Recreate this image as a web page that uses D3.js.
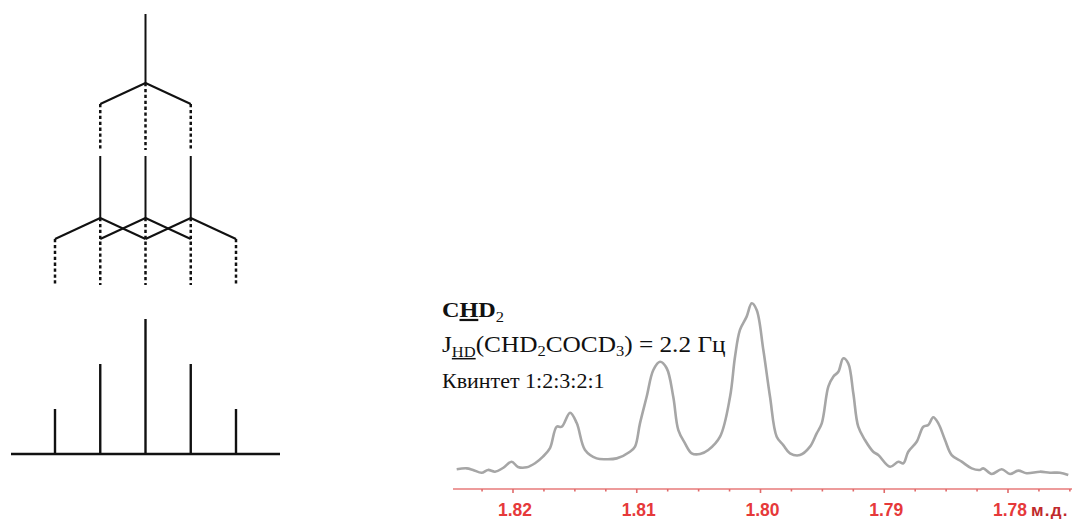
<!DOCTYPE html>
<html>
<head>
<meta charset="utf-8">
<script src="https://cdn.jsdelivr.net/npm/d3@7"></script>
<style>
  html, body { margin: 0; padding: 0; background: #fff; }
  svg { display: block; }
</style>
</head>
<body>
<svg id="chart" width="1082" height="519"></svg>
<script>
// Stick spectrum: relative intensities of the 1:2:3:2:1 quintet
const stickOffsets = [-2, -1, 0, 1, 2];       // line positions, in units of J
const stickIntensities = [1, 2, 3, 2, 1];

// Splitting tree: each D (spin 1) splits a line into three
const tripletOffsets = [-1, 0, 1];

// Measured CHD2 signal: chemical shift (ppm) and intensity (arb. units)
const shiftPpm = [
  1.82455, 1.82374, 1.82323, 1.82253, 1.82202, 1.82145, 1.82081, 1.82011, 1.81960, 1.81889,
  1.81822, 1.81758, 1.81701, 1.81647, 1.81606, 1.81539, 1.81485, 1.81418, 1.81324, 1.81243,
  1.81162, 1.81055, 1.81014, 1.80974, 1.80920, 1.80866, 1.80812, 1.80758, 1.80705, 1.80664,
  1.80610, 1.80556, 1.80489, 1.80422, 1.80327, 1.80246, 1.80206, 1.80166, 1.80112, 1.80071,
  1.80031, 1.79977, 1.79923, 1.79869, 1.79816, 1.79762, 1.79681, 1.79600, 1.79546, 1.79505,
  1.79452, 1.79412, 1.79371, 1.79331, 1.79291, 1.79250, 1.79210, 1.79156, 1.79089, 1.79048,
  1.78953, 1.78886, 1.78846, 1.78806, 1.78738, 1.78684, 1.78644, 1.78604, 1.78563, 1.78509,
  1.78455, 1.78374, 1.78293, 1.78226, 1.78200, 1.78132, 1.78051, 1.77984, 1.77917, 1.77849,
  1.77741, 1.77661, 1.77580, 1.77513
];
const intensity = [
  3.3, 3.8, 2.9, 1.3, 2.9, 1.9, 4.0, 7.6, 4.6, 4.4,
  6.7, 10.5, 15.4, 27.6, 27.6, 35.6, 29.7, 14.3, 9.5, 9.0,
  9.5, 13.3, 16.2, 29.5, 44.7, 60.0, 64.7, 61.0, 44.7, 25.7,
  18.1, 12.4, 12.0, 14.3, 21.9, 44.7, 67.6, 82.9, 90.5, 98.1,
  94.3, 71.4, 44.7, 21.9, 17.1, 12.4, 11.4, 16.2, 23.8, 29.5,
  50.5, 56.2, 59.0, 66.7, 63.8, 46.7, 27.6, 20.0, 13.3, 11.4,
  4.7, 7.6, 6.7, 13.3, 19.0, 27.6, 28.6, 33.0, 29.5, 20.0,
  11.4, 7.6, 3.8, 2.9, 3.8, 0.6, 3.3, 0.6, 2.5, 1.0,
  1.9, 1.3, 1.3, 0.0
];

// Axis ticks (ppm)
const majorTicks = [1.82, 1.81, 1.80, 1.79, 1.78];
const tickLabels = ["1.82", "1.81", "1.80", "1.79", "1.78"];
const axisUnit = "м.д.";

const svg = d3.select("#chart");

// ---------- Left: splitting tree and stick spectrum ----------
const xTree = d3.scaleLinear().domain([-2, 2]).range([55, 236]);
const yStick = d3.scaleLinear().domain([0, 3]).range([454, 319]);
const tree = svg.append("g").attr("stroke", "#111").attr("fill", "none");

const solid = (x1, y1, x2, y2) => tree.append("line")
  .attr("x1", x1).attr("y1", y1).attr("x2", x2).attr("y2", y2)
  .attr("stroke-width", 2);
const dotted = (x, y1, y2) => tree.append("line")
  .attr("x1", x).attr("y1", y1).attr("x2", x).attr("y2", y2)
  .attr("stroke-width", 2.5).attr("stroke-dasharray", "3.3,2.6");

// level 0: the unsplit line
solid(xTree(0), 14, xTree(0), 83);
// first D: split into three
tripletOffsets.forEach(o => {
  if (o !== 0) solid(xTree(0), 83, xTree(o), 104);
  dotted(xTree(o), o === 0 ? 83 : 104, 150);
  solid(xTree(o), 156, xTree(o), 218);
});
// second D: each line splits again into three
tripletOffsets.forEach(o => {
  tripletOffsets.forEach(p => {
    if (p !== 0) solid(xTree(o), 218, xTree(o + p), 239);
  });
});
stickOffsets.forEach(o => {
  const inner = tripletOffsets.includes(o);
  dotted(xTree(o), inner ? 218 : 239, 285);
});

// stick spectrum
const sticks = svg.append("g").attr("stroke", "#111");
sticks.append("line")
  .attr("x1", 11).attr("x2", 280).attr("y1", yStick(0)).attr("y2", yStick(0))
  .attr("stroke-width", 2.6);
sticks.selectAll(".stick").data(stickOffsets).enter().append("line")
  .attr("class", "stick")
  .attr("x1", d => xTree(d)).attr("x2", d => xTree(d))
  .attr("y1", yStick(0)).attr("y2", (d, i) => yStick(stickIntensities[i]))
  .attr("stroke-width", 2.4);

// ---------- Right: experimental spectrum ----------
const x = d3.scaleLinear().domain([1.82, 1.78]).range([513, 1008]);
const y = d3.scaleLinear().domain([0, 100]).range([475, 300]);

const line = d3.line()
  .x(d => x(d[0])).y(d => y(d[1]))
  .curve(d3.curveCatmullRom.alpha(0.5));

svg.append("path")
  .datum(shiftPpm.map((s, i) => [s, intensity[i]]))
  .attr("d", line)
  .attr("fill", "none")
  .attr("stroke", "#a6a6a6")
  .attr("stroke-width", 2.6)
  .attr("stroke-linejoin", "round");

// ppm axis
const axisY = 489;
const axisG = svg.append("g");
axisG.append("line")
  .attr("x1", 453).attr("x2", 1072).attr("y1", axisY).attr("y2", axisY)
  .attr("stroke", "#e77a7a").attr("stroke-width", 1.6);

const minorTicks = d3.range(0, 21).map(i => 1.825 - i * 0.0025)
  .filter(v => x(v) >= 453 && x(v) <= 1072);
axisG.selectAll(".minor").data(minorTicks).enter().append("line")
  .attr("x1", d => x(d)).attr("x2", d => x(d))
  .attr("y1", axisY).attr("y2", (d) => majorTicks.some(m => Math.abs(m - d) < 1e-6) ? axisY + 4 : axisY + 2.5)
  .attr("stroke", "#e06a6a").attr("stroke-width", 1.6);

axisG.selectAll(".tlabel").data(majorTicks).enter().append("text")
  .attr("x", d => x(d) + 2).attr("y", 516)
  .attr("text-anchor", "middle")
  .attr("font-family", "Liberation Sans, Arial, sans-serif")
  .attr("font-weight", "bold").attr("font-size", 17.5)
  .attr("fill", "#e6393a")
  .text((d, i) => tickLabels[i]);

axisG.append("text")
  .attr("x", 1031).attr("y", 516)
  .attr("font-family", "Liberation Sans, Arial, sans-serif")
  .attr("font-weight", "bold").attr("font-size", 17)
  .attr("letter-spacing", 1.2)
  .attr("fill", "#c02a2c")
  .text(axisUnit);

// ---------- Annotations ----------
const notes = svg.append("g")
  .attr("font-family", "Liberation Serif, Times New Roman, serif")
  .attr("fill", "#111")
  .attr("transform", "translate(442,0) scale(1.1,1)");

const t1 = notes.append("text").attr("x", 0).attr("y", 317)
  .attr("font-size", 22).attr("font-weight", "bold");
t1.append("tspan").text("C");
t1.append("tspan").attr("text-decoration", "underline").text("H");
t1.append("tspan").text("D");
t1.append("tspan").attr("font-size", 15).attr("font-weight", "normal").attr("dy", 5).text("2");

const t2 = notes.append("text").attr("x", 0).attr("y", 352).attr("font-size", 23);
t2.append("tspan").text("J");
t2.append("tspan").attr("font-size", 15).attr("dy", 5).attr("text-decoration", "underline").text("HD");
t2.append("tspan").attr("dy", -5).text("(CHD");
t2.append("tspan").attr("font-size", 15).attr("dy", 4).text("2");
t2.append("tspan").attr("dy", -4).text("COCD");
t2.append("tspan").attr("font-size", 15).attr("dy", 4).text("3");
t2.append("tspan").attr("dy", -4).text(") = 2.2 Гц");

notes.append("text").attr("x", 0).attr("y", 388).attr("font-size", 20)
  .text("Квинтет 1:2:3:2:1");
</script>
</body>
</html>
